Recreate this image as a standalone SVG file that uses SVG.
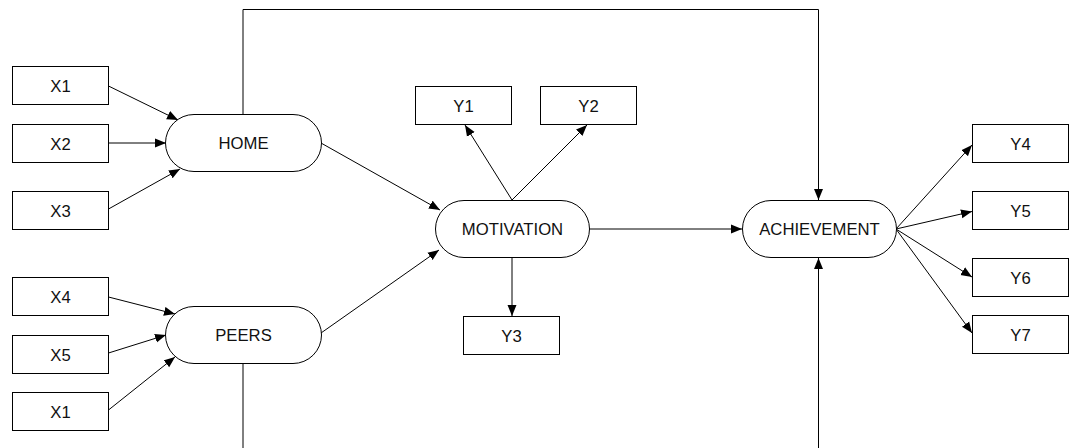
<svg xmlns="http://www.w3.org/2000/svg" width="1074" height="448" viewBox="0 0 1074 448">
  <defs>
    <marker id="arrow" markerUnits="userSpaceOnUse" markerWidth="11" markerHeight="10" refX="11" refY="4.5" orient="auto" viewBox="0 0 11 9">
      <path d="M0,0 L11,4.5 L0,9 Z" fill="#000"/>
    </marker>
    <style>
      .box { fill: #fff; stroke: #000; stroke-width: 1; }
      .latent { fill: #fff; stroke: #000; stroke-width: 1; }
      .lbl { font-family: "Liberation Sans", Arial, sans-serif; font-size: 16.7px; fill: #111; text-anchor: middle; }
      .edge { fill: none; stroke: #000; stroke-width: 1; marker-end: url(#arrow); }
      .plain { fill: none; stroke: #000; stroke-width: 1; }
    </style>
  </defs>
  <rect width="1074" height="448" fill="#fff"/>

  <!-- connectors -->
  <g id="connectors">
    <!-- indicators into HOME -->
    <line class="edge" x1="108.5" y1="86" x2="178" y2="120"/>
    <line class="edge" x1="108.5" y1="143" x2="166" y2="143"/>
    <line class="edge" x1="108.5" y1="209" x2="180" y2="169"/>
    <!-- indicators into PEERS -->
    <line class="edge" x1="108.5" y1="297" x2="175" y2="314"/>
    <line class="edge" x1="108.5" y1="353" x2="166" y2="335"/>
    <line class="edge" x1="108.5" y1="410" x2="175" y2="357"/>
    <!-- latent paths -->
    <line class="edge" x1="321" y1="143" x2="440" y2="210"/>
    <line class="edge" x1="321" y1="333" x2="439" y2="250"/>
    <line class="edge" x1="589" y1="229" x2="742" y2="229"/>
    <!-- MOTIVATION indicators -->
    <line class="edge" x1="512" y1="200" x2="465" y2="125"/>
    <line class="edge" x1="512" y1="200" x2="587" y2="125"/>
    <line class="edge" x1="512" y1="258" x2="512" y2="316"/>
    <!-- HOME to ACHIEVEMENT over the top -->
    <path class="edge" d="M243,114 V9.5 H818.5 V200"/>
    <!-- PEERS to ACHIEVEMENT along the bottom -->
    <path class="edge" d="M243,364 V470 H818.5 V258"/>
    <!-- ACHIEVEMENT indicators -->
    <line class="edge" x1="896" y1="229" x2="972" y2="145"/>
    <line class="edge" x1="896" y1="229" x2="972" y2="211.5"/>
    <line class="edge" x1="896" y1="229" x2="972" y2="277"/>
    <line class="edge" x1="896" y1="229" x2="972" y2="333"/>
  </g>

  <!-- observed variables -->
  <g id="x1"><rect class="box" x="12.5" y="66.5" width="96" height="38"/><text class="lbl" x="60.5" y="91.5">X1</text></g>
  <g id="x2"><rect class="box" x="12.5" y="124.5" width="96" height="38"/><text class="lbl" x="60.5" y="149.5">X2</text></g>
  <g id="x3"><rect class="box" x="12.5" y="191.5" width="96" height="38"/><text class="lbl" x="60.5" y="216.5">X3</text></g>
  <g id="x4"><rect class="box" x="12.5" y="277.5" width="96" height="38"/><text class="lbl" x="60.5" y="302.5">X4</text></g>
  <g id="x5"><rect class="box" x="12.5" y="335.5" width="96" height="38"/><text class="lbl" x="60.5" y="360.5">X5</text></g>
  <g id="x1b"><rect class="box" x="12.5" y="392.5" width="96" height="38"/><text class="lbl" x="60.5" y="417.5">X1</text></g>

  <g id="y1"><rect class="box" x="415.5" y="86.5" width="96" height="38"/><text class="lbl" x="463.5" y="111.5">Y1</text></g>
  <g id="y2"><rect class="box" x="540.5" y="86.5" width="96" height="38"/><text class="lbl" x="588.5" y="111.5">Y2</text></g>
  <g id="y3"><rect class="box" x="463.5" y="316.5" width="96" height="38"/><text class="lbl" x="511.5" y="341.5">Y3</text></g>

  <g id="y4"><rect class="box" x="972.5" y="124.5" width="96" height="38"/><text class="lbl" x="1020.5" y="149.5">Y4</text></g>
  <g id="y5"><rect class="box" x="972.5" y="191.5" width="96" height="38"/><text class="lbl" x="1020.5" y="216.5">Y5</text></g>
  <g id="y6"><rect class="box" x="972.5" y="258.5" width="96" height="38"/><text class="lbl" x="1020.5" y="283.5">Y6</text></g>
  <g id="y7"><rect class="box" x="972.5" y="315.5" width="96" height="38"/><text class="lbl" x="1020.5" y="340.5">Y7</text></g>

  <!-- latent constructs -->
  <g id="home"><rect class="latent" x="165.5" y="114.5" width="156" height="57" rx="28.5"/><text class="lbl" x="243.5" y="149">HOME</text></g>
  <g id="peers"><rect class="latent" x="165.5" y="306.5" width="156" height="57" rx="28.5"/><text class="lbl" x="243.5" y="341">PEERS</text></g>
  <g id="motivation"><rect class="latent" x="435.5" y="200.5" width="154" height="57" rx="28.5"/><text class="lbl" x="512.5" y="235">MOTIVATION</text></g>
  <g id="achievement"><rect class="latent" x="742.5" y="200.5" width="154" height="57" rx="28.5"/><text class="lbl" x="819.5" y="235">ACHIEVEMENT</text></g>
</svg>
